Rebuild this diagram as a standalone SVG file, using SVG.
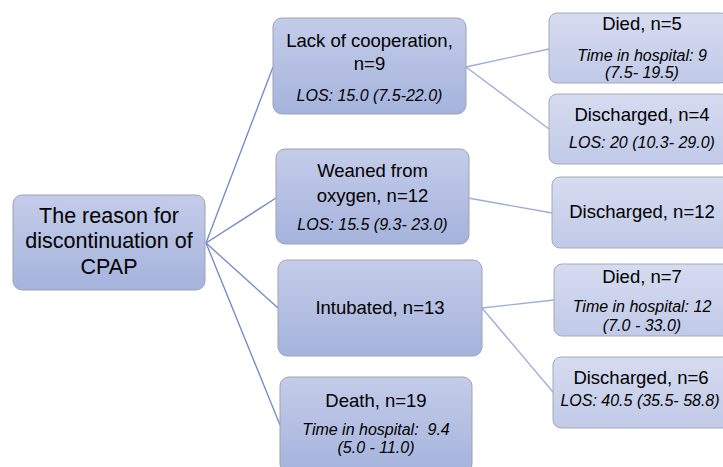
<svg xmlns="http://www.w3.org/2000/svg" width="723" height="467" viewBox="0 0 723 467">
<defs>
<linearGradient id="gL" x1="0" y1="0" x2="0" y2="1">
<stop offset="0" stop-color="#c4cce9"/>
<stop offset="1" stop-color="#a5b3dc"/>
</linearGradient>
<linearGradient id="gR" x1="0" y1="0" x2="0" y2="1">
<stop offset="0" stop-color="#d6dcf0"/>
<stop offset="1" stop-color="#c0c9e7"/>
</linearGradient>
<style>
.bl{fill:url(#gL);stroke:#9ea3b4;stroke-width:1}
.br{fill:url(#gR);stroke:#a4a9b8;stroke-width:1}
text{font-family:"Liberation Sans",Arial,sans-serif;fill:#000;text-anchor:middle}
.m{font-size:18.5px}
.r{font-size:21.5px}
.i{font-size:16px;font-style:italic}
.cl{stroke:#6f87cc;stroke-width:1.3;fill:none}
.cr{stroke:#9cadda;stroke-width:1.3;fill:none}
</style>
</defs>
<rect width="723" height="467" fill="#ffffff"/>
<g id="connectors">
<line class="cl" x1="206" y1="243" x2="273" y2="67"/>
<line class="cl" x1="206" y1="243" x2="276" y2="198"/>
<line class="cl" x1="206" y1="243" x2="278" y2="308"/>
<line class="cl" x1="206" y1="243" x2="280" y2="425"/>
<line class="cr" x1="466" y1="67" x2="549" y2="49"/>
<line class="cr" x1="466" y1="67" x2="549" y2="129"/>
<line class="cr" x1="468" y1="198" x2="552" y2="213"/>
<line class="cr" x1="482" y1="308" x2="554" y2="300"/>
<line class="cr" x1="482" y1="308" x2="553" y2="392"/>
</g>
<g id="root">
<rect class="bl" x="13" y="195" width="192" height="95" rx="9"/>
<text class="r" x="109" y="222.5">The reason for</text>
<text class="r" x="109" y="248">discontinuation of</text>
<text class="r" x="109" y="273.5">CPAP</text>
</g>
<g id="lack">
<rect class="bl" x="273" y="18" width="193" height="96" rx="9"/>
<text class="m" x="369.5" y="47">Lack of cooperation,</text>
<text class="m" x="369.5" y="70">n=9</text>
<text class="i" x="369.5" y="101">LOS: 15.0 (7.5-22.0)</text>
</g>
<g id="weaned">
<rect class="bl" x="276" y="149" width="193" height="95" rx="9"/>
<text class="m" x="372.5" y="177">Weaned from</text>
<text class="m" x="372.5" y="202">oxygen, n=12</text>
<text class="i" x="372.5" y="230">LOS: 15.5 (9.3- 23.0)</text>
</g>
<g id="intubated">
<rect class="bl" x="278" y="260" width="204" height="96" rx="9"/>
<text class="m" x="380" y="314">Intubated, n=13</text>
</g>
<g id="death">
<rect class="bl" x="280" y="377" width="192" height="96" rx="9"/>
<text class="m" x="376" y="407">Death, n=19</text>
<text class="i" x="376" y="435">Time in hospital:&#160; 9.4</text>
<text class="i" x="376" y="453">(5.0 - 11.0)</text>
</g>
<g id="died5">
<rect class="br" x="549" y="13" width="180" height="70" rx="8"/>
<text class="m" x="642" y="30">Died, n=5</text>
<text class="i" x="642" y="61">Time in hospital: 9</text>
<text class="i" x="642" y="78">(7.5- 19.5)</text>
</g>
<g id="discharged4">
<rect class="br" x="549" y="94" width="180" height="70" rx="8"/>
<text class="m" x="642" y="120.5">Discharged, n=4</text>
<text class="i" x="642" y="148">LOS: 20 (10.3- 29.0)</text>
</g>
<g id="discharged12">
<rect class="br" x="552" y="177" width="180" height="71" rx="8"/>
<text class="m" x="642" y="218">Discharged, n=12</text>
</g>
<g id="died7">
<rect class="br" x="554" y="264" width="180" height="72" rx="8"/>
<text class="m" x="642" y="283">Died, n=7</text>
<text class="i" x="642" y="312">Time in hospital: 12</text>
<text class="i" x="642" y="331">(7.0 - 33.0)</text>
</g>
<g id="discharged6">
<rect class="br" x="553" y="357" width="180" height="71" rx="8"/>
<text class="m" x="641" y="384">Discharged, n=6</text>
<text class="i" x="640" y="406">LOS: 40.5 (35.5- 58.8)</text>
</g>
</svg>
